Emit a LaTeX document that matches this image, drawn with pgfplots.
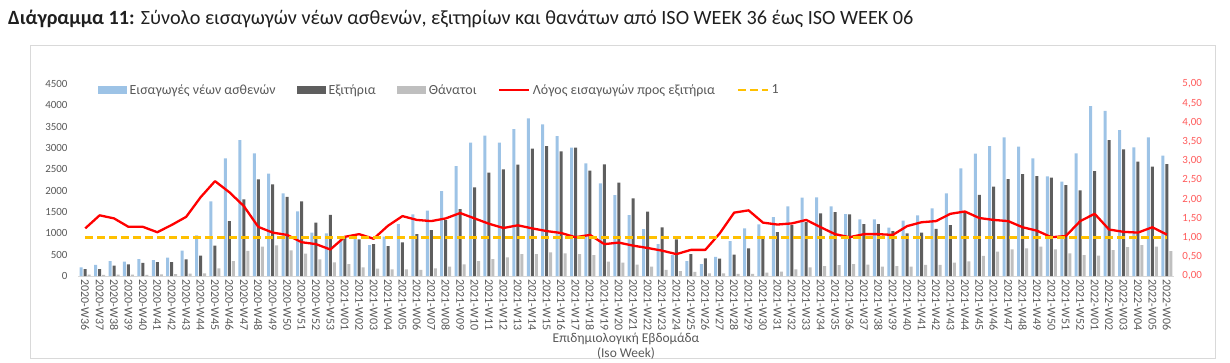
\documentclass[border=0pt]{standalone}
\usepackage{pgfplots}
\pgfplotsset{compat=1.18}
\usepackage{pgfplotstable}
\usepackage{fontspec}
\setmainfont{Carlito}

\definecolor{cBlue}{HTML}{9DC3E6}
\definecolor{cDark}{HTML}{5E5E5E}
\definecolor{cLight}{HTML}{BFBFBF}
\definecolor{cRed}{HTML}{FF0000}
\definecolor{cYellow}{HTML}{FFC000}
\definecolor{cText}{HTML}{595959}
\definecolor{cRedTick}{HTML}{FF5B5B}
\definecolor{cFrame}{HTML}{D9D9D9}

\pgfplotsset{
  barlegend/.style={legend image code/.code={\fill[##1] (0bp,-4bp) rectangle (29bp,4bp);}},
  linelegend/.style={legend image code/.code={\draw[##1] (0bp,0bp) -- (30bp,0bp);}},
}

\pgfplotstableread{
i adm dis dea ratio
0 203 164 30 1.24
1 258 164 25 1.58
2 351 242 35 1.50
3 336 273 30 1.28
4 398 305 25 1.28
5 375 328 40 1.14
6 430 328 45 1.33
7 594 390 55 1.54
8 955 476 60 2.05
9 1750 711 180 2.47
10 2757 1289 350 2.18
11 3186 1796 590 1.82
12 2874 2265 687 1.28
13 2400 2148 715 1.13
14 1937 1855 600 1.07
15 1515 1750 527 0.88
16 1015 1250 390 0.83
17 1000 1430 320 0.69
18 915 903 277 1.02
19 945 859 203 1.09
20 726 750 172 0.97
21 922 703 156 1.31
22 1218 789 156 1.56
23 1445 984 145 1.46
24 1531 1078 176 1.43
25 1992 1312 219 1.50
26 2577 1570 273 1.64
27 3124 2077 351 1.50
28 3288 2421 398 1.36
29 3124 2499 437 1.25
30 3444 2609 515 1.32
31 3694 2983 515 1.24
32 3554 3046 554 1.17
33 3280 2921 531 1.12
34 3007 3007 515 1.01
35 2640 2468 492 1.07
36 2171 2616 336 0.83
37 1898 2187 312 0.87
38 1429 1820 269 0.79
39 1101 1507 219 0.73
40 746 1140 141 0.66
41 492 859 117 0.57
42 351 515 94 0.68
43 281 414 62 0.68
44 450 406 62 1.11
45 820 500 47 1.65
46 1117 650 47 1.71
47 1210 870 78 1.39
48 1382 1031 102 1.34
49 1630 1190 156 1.37
50 1835 1260 203 1.46
51 1843 1468 234 1.27
52 1632 1500 254 1.09
53 1453 1445 277 1.01
54 1328 1218 265 1.09
55 1328 1218 219 1.09
56 1132 1054 234 1.07
57 1296 1000 219 1.30
58 1421 1015 258 1.40
59 1585 1105 258 1.43
60 1937 1195 316 1.62
61 2523 1500 343 1.68
62 2866 1902 469 1.51
63 3046 2093 570 1.46
64 3249 2270 625 1.43
65 3035 2390 648 1.27
66 2757 2343 687 1.18
67 2335 2308 625 1.01
68 2210 2128 531 1.04
69 2874 2007 492 1.43
70 3983 2460 476 1.62
71 3870 3186 609 1.21
72 3421 2968 675 1.15
73 3015 2679 726 1.13
74 3249 2562 687 1.27
75 2823 2624 582 1.08
}\data

\begin{document}
\begin{tikzpicture}[x=1bp,y=1bp]
\useasboundingbox (0,0) rectangle (1230,362);
\draw[cFrame, line width=0.8bp] (30,4) rectangle (1215,317);
\node[anchor=base west, inner sep=0, font=\fontsize{20.3}{24}\selectfont, text=black!88] at (8,338)
  {\textbf{Διάγραμμα 11:} Σύνολο εισαγωγών νέων ασθενών, εξιτηρίων και θανάτων από ISO WEEK 36 έως ISO WEEK 06};

\begin{axis}[
  at={(78bp,86bp)}, anchor=south west,
  scale only axis, width=1096bp, height=192bp,
  xmin=-0.5, xmax=75.5, ymin=0, ymax=4500,
  ybar=1bp, bar width=3bp,
  axis x line*=bottom, axis y line*=left,
  x axis line style={cFrame, line width=0.8bp},
  y axis line style={draw=none},
  major tick length=0pt,
  ytick={0,500,1000,1500,2000,2500,3000,3500,4000,4500},
  /pgf/number format/1000 sep={},
  /pgf/number format/assume math mode=true,
  yticklabel style={font=\fontsize{11}{12}\selectfont, text=cText, xshift=-7bp},
  xtick={0,...,75},
  xticklabels={2020-W36,2020-W37,2020-W38,2020-W39,2020-W40,2020-W41,2020-W42,2020-W43,2020-W44,2020-W45,2020-W46,2020-W47,2020-W48,2020-W49,2020-W50,2020-W51,2020-W52,2020-W53,
  2021-W01,2021-W02,2021-W03,2021-W04,2021-W05,2021-W06,2021-W07,2021-W08,2021-W09,2021-W10,2021-W11,2021-W12,2021-W13,2021-W14,2021-W15,2021-W16,2021-W17,2021-W18,2021-W19,2021-W20,2021-W21,2021-W22,2021-W23,2021-W24,2021-W25,2021-W26,2021-W27,2021-W28,2021-W29,2021-W30,2021-W31,2021-W32,2021-W33,2021-W34,2021-W35,2021-W36,2021-W37,2021-W38,2021-W39,2021-W40,2021-W41,2021-W42,2021-W43,2021-W44,2021-W45,2021-W46,2021-W47,2021-W48,2021-W49,2021-W50,2021-W51,2021-W52,
  2022-W01,2022-W02,2022-W03,2022-W04,2022-W05,2022-W06},
  xticklabel style={font=\fontsize{12}{13}\selectfont, text=cText, rotate=-90, anchor=west},
  xlabel={Επιδημιολογική Εβδομάδα\\(Iso Week)},
  xlabel style={at={(axis description cs:0.5,0)}, anchor=north, yshift=-54bp, align=center, font=\fontsize{13.5}{15}\selectfont, text=cText},
  clip=false,
]
\addplot[fill=cBlue, draw=none] table[x=i,y=adm]{\data};
\addplot[fill=cDark, draw=none] table[x=i,y=dis]{\data};
\addplot[fill=cLight, draw=none] table[x=i,y=dea]{\data};
\end{axis}

\begin{axis}[
  at={(78bp,86bp)}, anchor=south west,
  scale only axis, width=1096bp, height=192bp,
  xmin=-0.5, xmax=75.5, ymin=0, ymax=5,
  axis x line=none, axis y line*=right,
  y axis line style={draw=none},
  major tick length=0pt,
  ytick={0,0.5,1,1.5,2,2.5,3,3.5,4,4.5,5},
  /pgf/number format/assume math mode=true,
  yticklabel style={font=\fontsize{11}{12}\selectfont, text=cRedTick, xshift=5bp,
    /pgf/number format/.cd, fixed, fixed zerofill, precision=2, use comma},
  clip=false,
  legend style={at={(axis description cs:0.0182,0.969)}, anchor=west, draw=none, fill=none, inner sep=0pt,
    font=\fontsize{14}{15}\selectfont, text=cText, legend columns=-1,
    /tikz/every even column/.append style={column sep=19bp},
    /tikz/every odd column/.append style={column sep=0bp},
    nodes={inner xsep=2.5bp, inner ysep=1bp}},
  legend cell align=left,
]
\addlegendimage{fill=cBlue, draw=none, barlegend}
\addlegendentry{Εισαγωγές νέων ασθενών}
\addlegendimage{fill=cDark, draw=none, barlegend}
\addlegendentry{Εξιτήρια}
\addlegendimage{fill=cLight, draw=none, barlegend}
\addlegendentry{Θάνατοι}
\addplot[cRed, line width=2.3bp, line join=round, no marks, linelegend] table[x=i,y=ratio]{\data};
\addlegendentry{Λόγος εισαγωγών προς εξιτήρια}
\addplot[cYellow, line width=2.5bp, dash pattern=on 8bp off 4bp, no marks, linelegend] coordinates {(0,1) (75,1)};
\addlegendentry{1}
\end{axis}
\end{tikzpicture}
\end{document}
